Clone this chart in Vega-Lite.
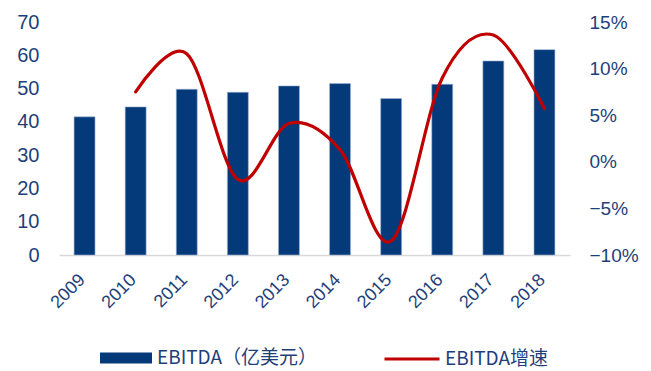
{
  "$schema": "https://vega.github.io/schema/vega-lite/v6.json",
  "width": 511,
  "height": 233,
  "autosize": {"type": "none"},
  "padding": {"left": 59, "top": 22, "right": 81, "bottom": 116},
  "background": "white",
  "config": {
    "view": {"stroke": null},
    "axis": {"labelFont": "Liberation Sans", "labelColor": "#1F3F7A", "grid": false, "ticks": false, "title": null},
    "legend": {"labelFont": "Noto Sans CJK SC", "labelFontSize": 19, "labelColor": "#1F3F7A", "title": null, "labelLimit": 400}
  },
  "data": {
    "values": [
      {"year": "2009", "ebitda": 41.5, "growth": null},
      {"year": "2010", "ebitda": 44.5, "growth": 0.075},
      {"year": "2011", "ebitda": 49.8, "growth": 0.116},
      {"year": "2012", "ebitda": 48.9, "growth": -0.019},
      {"year": "2013", "ebitda": 50.8, "growth": 0.041},
      {"year": "2014", "ebitda": 51.5, "growth": 0.013},
      {"year": "2015", "ebitda": 47.0, "growth": -0.085},
      {"year": "2016", "ebitda": 51.3, "growth": 0.09},
      {"year": "2017", "ebitda": 58.3, "growth": 0.136},
      {"year": "2018", "ebitda": 61.7, "growth": 0.057}
    ]
  },
  "encoding": {
    "x": {
      "field": "year", "type": "ordinal",
      "scale": {"paddingInner": 0.59, "paddingOuter": 0.295},
      "axis": {"labelAngle": -45, "labelAlign": "right", "labelBaseline": "middle", "labelFontSize": 18, "labelPadding": 22, "labelOffset": -2, "domainColor": "#D9D9D9", "domainWidth": 1.5}
    }
  },
  "layer": [
    {
      "mark": {"type": "bar", "stroke": "#9FB3D1", "strokeWidth": 0.6},
      "encoding": {
        "y": {"field": "ebitda", "type": "quantitative", "scale": {"domain": [0, 70], "nice": false}, "axis": {"values": [0,10,20,30,40,50,60,70], "domain": false, "labelFontSize": 20, "labelPadding": 20}},
        "fill": {"datum": "EBITDA（亿美元）", "type": "nominal", "scale": {"range": ["#043A7A"]},
          "legend": {"orient": "none", "legendX": 41, "legendY": 310, "symbolType": "M-1,-0.21L1,-0.21L1,0.21L-1,0.21Z", "symbolSize": 2704, "symbolStrokeWidth": 0, "labelOffset": 5}}
      }
    },
    {
      "transform": [{"filter": "datum.growth != null"}],
      "mark": {"type": "line", "interpolate": "cardinal", "strokeWidth": 3.2, "strokeCap": "round"},
      "encoding": {
        "y": {"field": "growth", "type": "quantitative", "scale": {"domain": [-0.1, 0.15], "nice": false}, "axis": {"orient": "right", "values": [-0.1,-0.05,0,0.05,0.1,0.15], "format": ".0%", "domain": false, "labelFontSize": 19, "labelPadding": 19}},
        "stroke": {"datum": "EBITDA增速", "type": "nominal", "scale": {"range": ["#C00000"]},
          "legend": {"orient": "none", "legendX": 324, "legendY": 308, "symbolType": "stroke", "symbolSize": 3025, "symbolStrokeWidth": 3, "labelOffset": 4}}
      }
    }
  ],
  "resolve": {"scale": {"y": "independent"}}
}
